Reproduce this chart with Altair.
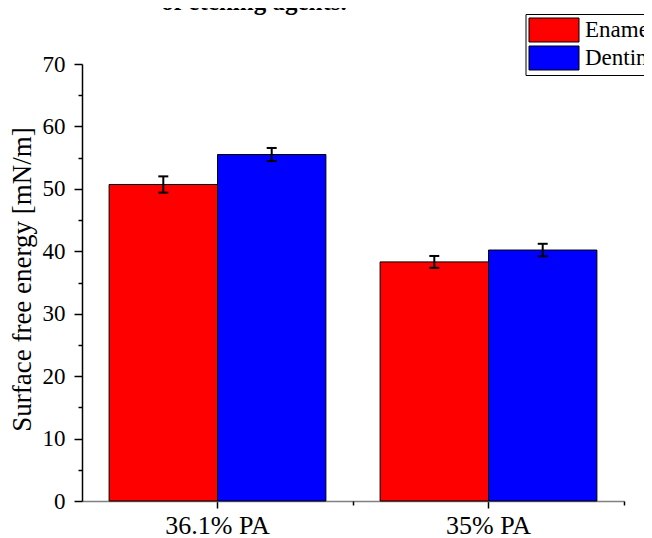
import altair as alt
import pandas as pd

agents = ["36.1% PA", "35% PA"]
tissues = ["Enamel", "Dentine"]
enamel_mean = [50.7, 38.3]
dentine_mean = [55.5, 40.2]
enamel_err = [1.3, 0.95]
dentine_err = [1.05, 1.0]
colors = ["#FF0000", "#0000FF"]
y_major = [0, 10, 20, 30, 40, 50, 60, 70]
y_minor = [5, 15, 25, 35, 45, 55, 65]
title_line = "of etching agents."
y_title = "Surface free energy [mN/m]"

rows = []
for i, a in enumerate(agents):
    rows.append(dict(agent=a, tissue="Enamel", mean=enamel_mean[i], err=enamel_err[i]))
    rows.append(dict(agent=a, tissue="Dentine", mean=dentine_mean[i], err=dentine_err[i]))
df = pd.DataFrame(rows)

FONT = "Liberation Serif"
xscale = alt.Scale(domain=agents, paddingInner=0.2, paddingOuter=0.1)
yscale = alt.Scale(domain=[0, 70], nice=False)
offscale = alt.Scale(domain=tissues, paddingInner=0, paddingOuter=0)
xoff = alt.XOffset("tissue:N", scale=offscale, sort=tissues)

bars = alt.Chart(df).mark_bar(stroke="black", strokeWidth=1, opacity=1).encode(
    x=alt.X("agent:N", scale=xscale, sort=agents, axis=alt.Axis(
        title=None, labelAngle=0, labelFont=FONT, labelFontSize=26, labelColor="black",
        labelPadding=4, domainColor="#808080", domainWidth=1.5, tickColor="black",
        tickWidth=1.5, tickSize=7, orient="bottom")),
    xOffset=xoff,
    y=alt.Y("mean:Q", scale=yscale, axis=alt.Axis(
        values=y_major, title=y_title, titleFont=FONT, titleFontSize=27,
        titleFontWeight="normal", titleColor="black", titlePadding=6, titleY=215,
        labelFont=FONT, labelFontSize=23, labelColor="black", labelPadding=9,
        labelFlush=False, labelOverlap=False, domainColor="black", domainWidth=1.5,
        tickColor="black", tickWidth=1.5, tickSize=8, grid=False, orient="left")),
    color=alt.Color("tissue:N", scale=alt.Scale(domain=tissues, range=colors), legend=alt.Legend(
        title=None, orient="none", legendX=443.5, legendY=-50,
        symbolType="M-2,-0.96H2V0.96H-2Z", symbolSize=625, symbolOffset=12.5,
        symbolStrokeColor="black", symbolStrokeWidth=1, symbolOpacity=1,
        labelFont=FONT, labelFontSize=23, labelColor="black", labelOffset=18,
        padding=3, rowPadding=0, strokeColor="black", fillColor="white", cornerRadius=0)),
)

err = alt.Chart(df).transform_calculate(
    lo="datum.mean - datum.err", hi="datum.mean + datum.err"
).mark_rule(color="black", strokeWidth=2).encode(
    x=alt.X("agent:N", scale=xscale, sort=agents, axis=alt.Axis(
        orient="bottom", tickOffset=135.5, labels=False, domain=False, title=None,
        tickSize=4, tickColor="black", tickWidth=1.5)),
    xOffset=xoff,
    y=alt.Y("lo:Q", scale=yscale, axis=alt.Axis(
        orient="left", values=y_minor, labels=False, domain=False, title=None,
        tickSize=4, tickColor="black", tickWidth=1.5, grid=False)),
    y2="hi:Q",
)

caps_lo = alt.Chart(df).transform_calculate(lo="datum.mean - datum.err").mark_tick(
    color="black", thickness=2, size=10, orient="horizontal", opacity=1
).encode(
    x=alt.X("agent:N", scale=xscale, sort=agents, axis=None),
    xOffset=xoff,
    y=alt.Y("lo:Q", scale=yscale, axis=None),
)
caps_hi = alt.Chart(df).transform_calculate(hi="datum.mean + datum.err").mark_tick(
    color="black", thickness=2, size=10, orient="horizontal", opacity=1
).encode(
    x=alt.X("agent:N", scale=xscale, sort=agents, axis=None),
    xOffset=xoff,
    y=alt.Y("hi:Q", scale=yscale, axis=None),
)

title_txt = alt.Chart(pd.DataFrame({"t": [title_line]})).mark_text(
    font=FONT, fontSize=25, fontWeight="bold", align="center", baseline="alphabetic", color="black"
).encode(text="t:N", x=alt.value(172), y=alt.value(-54))

chart = alt.layer(bars, err, caps_lo, caps_hi, title_txt).resolve_scale(
    x="shared", y="shared"
).resolve_axis(x="independent", y="independent").properties(
    width=542, height=437,
    autosize=alt.AutoSizeParams(type="none"),
    padding={"left": 74, "top": 56, "right": 20, "bottom": 37},
    background="white",
).configure_view(stroke=None)

chart.save("out.html", embed_options={"renderer": "svg", "actions": False})
